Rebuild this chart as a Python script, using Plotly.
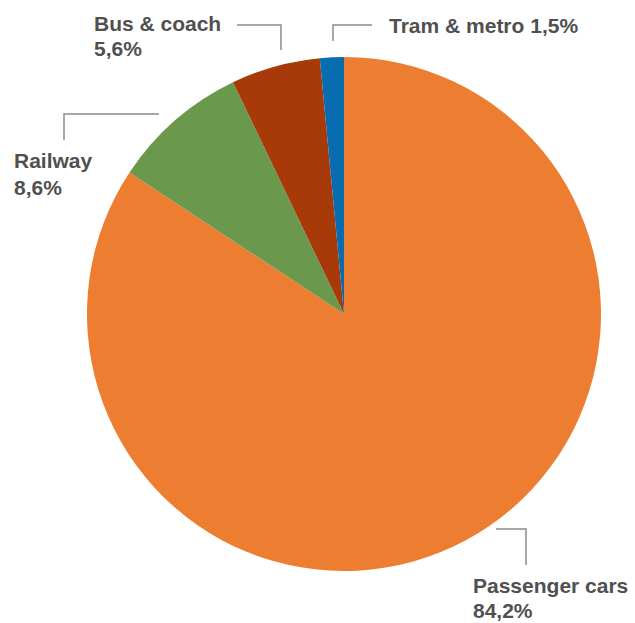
import plotly.graph_objects as go

# Modal split of passenger transport (%)
categories = ["Passenger cars", "Railway", "Bus & coach", "Tram & metro"]
shares = [84.2, 8.6, 5.6, 1.5]
colors = ["#ED7D31", "#6A994D", "#A83A0A", "#0A6CB0"]

W, H = 635, 623
CX, CY, R = 344, 314, 257  # pie centre and radius in pixels

fig = go.Figure(go.Pie(
    labels=categories,
    values=shares,
    marker=dict(colors=colors, line=dict(width=0)),
    sort=False,
    direction="clockwise",
    rotation=0,
    textinfo="none",
    hoverinfo="label+percent",
    showlegend=False,
    domain=dict(x=[(CX - R) / W, (CX + R) / W],
                y=[1 - (CY + R) / H, 1 - (CY - R) / H]),
))


def fmt(v):
    return f"{v:.1f}".replace(".", ",") + "%"


def px(x):
    return x / W


def py(y):
    return 1 - y / H


# Leader-line elbows and label placement (pixels)
callouts = {
    "Passenger cars": dict(line=[(496, 529), (526, 529), (526, 565)],
                           text=[(471, 585, "{name}"), (471, 610, "{val}")]),
    "Railway": dict(line=[(159, 114), (64, 114), (64, 140)],
                    text=[(12, 161, "{name}"), (12, 187, "{val}")]),
    "Bus & coach": dict(line=[(237, 25), (281, 25), (281, 50)],
                        text=[(92, 23, "{name}"), (92, 49, "{val}")]),
    "Tram & metro": dict(line=[(333, 41), (333, 25), (372, 25)],
                         text=[(387, 25, "{name} {val}")]),
}

shapes = []
annotations = []
for name, val in zip(categories, shares):
    c = callouts[name]
    pts = c["line"]
    path = "M " + " L ".join(f"{px(x)},{py(y)}" for x, y in pts)
    shapes.append(dict(type="path", path=path, xref="paper", yref="paper",
                       line=dict(color="#8C8C8C", width=1.5)))
    for x, y, tpl in c["text"]:
        annotations.append(dict(
            x=px(x), y=py(y), xref="paper", yref="paper",
            xanchor="left", yanchor="middle", showarrow=False,
            text="<b>" + tpl.format(name=name.replace("&", "&amp;"), val=fmt(val)) + "</b>",
            font=dict(family="Liberation Sans, Arial, sans-serif", size=21, color="#505050"),
        ))

fig.update_layout(
    width=W, height=H,
    margin=dict(l=0, r=0, t=0, b=0),
    paper_bgcolor="white",
    plot_bgcolor="white",
    shapes=shapes,
    annotations=annotations,
)

fig.write_html("out.html")
